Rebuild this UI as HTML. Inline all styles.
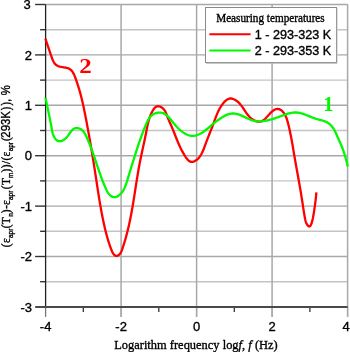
<!DOCTYPE html>
<html><head><meta charset="utf-8"><style>
html,body{margin:0;padding:0;background:#fff;}
svg{display:block;}
text{stroke:#000;stroke-width:0.35px;}
.cl{stroke:none;}
.tl{font-family:"Liberation Sans",sans-serif;font-size:13px;fill:#000;}
.lt{font-family:"Liberation Serif",serif;font-size:11.8px;fill:#000;}
.ll{font-family:"Liberation Sans",sans-serif;font-size:12px;fill:#000;}
.cl{font-family:"Liberation Serif",serif;font-size:20.5px;font-weight:bold;}
.xt{font-family:"Liberation Serif",serif;font-size:13px;fill:#000;}
.yt{font-family:"Liberation Sans",sans-serif;font-size:13px;fill:#000;}
.yt .s{font-family:"Liberation Serif",serif;}
.yt .sub{font-size:7.5px;}
</style></head><body>
<svg width="350" height="352" viewBox="0 0 350 352">
<rect width="350" height="352" fill="#fff"/>
<line x1="45.6" y1="4.50" x2="347.6" y2="4.50" stroke="#a8a8a8" stroke-width="1.4"/>
<line x1="45.6" y1="29.70" x2="347.6" y2="29.70" stroke="#c4c4c4" stroke-width="1.4"/>
<line x1="45.6" y1="54.90" x2="347.6" y2="54.90" stroke="#a8a8a8" stroke-width="1.4"/>
<line x1="45.6" y1="80.10" x2="347.6" y2="80.10" stroke="#c4c4c4" stroke-width="1.4"/>
<line x1="45.6" y1="105.30" x2="347.6" y2="105.30" stroke="#a8a8a8" stroke-width="1.4"/>
<line x1="45.6" y1="130.50" x2="347.6" y2="130.50" stroke="#c4c4c4" stroke-width="1.4"/>
<line x1="45.6" y1="155.70" x2="347.6" y2="155.70" stroke="#a8a8a8" stroke-width="1.4"/>
<line x1="45.6" y1="180.90" x2="347.6" y2="180.90" stroke="#c4c4c4" stroke-width="1.4"/>
<line x1="45.6" y1="206.10" x2="347.6" y2="206.10" stroke="#a8a8a8" stroke-width="1.4"/>
<line x1="45.6" y1="231.30" x2="347.6" y2="231.30" stroke="#c4c4c4" stroke-width="1.4"/>
<line x1="45.6" y1="256.50" x2="347.6" y2="256.50" stroke="#a8a8a8" stroke-width="1.4"/>
<line x1="45.6" y1="281.70" x2="347.6" y2="281.70" stroke="#c4c4c4" stroke-width="1.4"/>
<line x1="121.1" y1="4.5" x2="121.1" y2="316.9" stroke="#a8a8a8" stroke-width="1.5"/>
<line x1="196.6" y1="4.5" x2="196.6" y2="316.9" stroke="#a8a8a8" stroke-width="1.5"/>
<line x1="272.1" y1="4.5" x2="272.1" y2="316.9" stroke="#a8a8a8" stroke-width="1.5"/>
<line x1="347.6" y1="4.5" x2="347.6" y2="316.9" stroke="#a8a8a8" stroke-width="1.5"/>
<line x1="35.1" y1="4.5" x2="45.6" y2="4.5" stroke="#333" stroke-width="1.4"/>
<line x1="40.1" y1="29.7" x2="45.6" y2="29.7" stroke="#333" stroke-width="1.4"/>
<line x1="35.1" y1="54.9" x2="45.6" y2="54.9" stroke="#333" stroke-width="1.4"/>
<line x1="40.1" y1="80.1" x2="45.6" y2="80.1" stroke="#333" stroke-width="1.4"/>
<line x1="35.1" y1="105.3" x2="45.6" y2="105.3" stroke="#333" stroke-width="1.4"/>
<line x1="40.1" y1="130.5" x2="45.6" y2="130.5" stroke="#333" stroke-width="1.4"/>
<line x1="35.1" y1="155.7" x2="45.6" y2="155.7" stroke="#333" stroke-width="1.4"/>
<line x1="40.1" y1="180.9" x2="45.6" y2="180.9" stroke="#333" stroke-width="1.4"/>
<line x1="35.1" y1="206.1" x2="45.6" y2="206.1" stroke="#333" stroke-width="1.4"/>
<line x1="40.1" y1="231.3" x2="45.6" y2="231.3" stroke="#333" stroke-width="1.4"/>
<line x1="35.1" y1="256.5" x2="45.6" y2="256.5" stroke="#333" stroke-width="1.4"/>
<line x1="40.1" y1="281.7" x2="45.6" y2="281.7" stroke="#333" stroke-width="1.4"/>
<line x1="35.1" y1="306.9" x2="45.6" y2="306.9" stroke="#333" stroke-width="1.4"/>
<line x1="45.6" y1="306.9" x2="45.6" y2="316.9" stroke="#777" stroke-width="1.3"/>
<line x1="83.3" y1="306.9" x2="83.3" y2="311.9" stroke="#333" stroke-width="1.3"/>
<line x1="121.1" y1="306.9" x2="121.1" y2="316.9" stroke="#a8a8a8" stroke-width="1.3"/>
<line x1="158.8" y1="306.9" x2="158.8" y2="311.9" stroke="#333" stroke-width="1.3"/>
<line x1="196.6" y1="306.9" x2="196.6" y2="316.9" stroke="#a8a8a8" stroke-width="1.3"/>
<line x1="234.3" y1="306.9" x2="234.3" y2="311.9" stroke="#333" stroke-width="1.3"/>
<line x1="272.1" y1="306.9" x2="272.1" y2="316.9" stroke="#a8a8a8" stroke-width="1.3"/>
<line x1="309.9" y1="306.9" x2="309.9" y2="311.9" stroke="#333" stroke-width="1.3"/>
<line x1="347.6" y1="306.9" x2="347.6" y2="316.9" stroke="#a8a8a8" stroke-width="1.3"/>
<line x1="45.6" y1="4.5" x2="45.6" y2="306.9" stroke="#222" stroke-width="1.3"/>
<line x1="35.6" y1="306.9" x2="347.6" y2="306.9" stroke="#4a4a4a" stroke-width="2"/>
<path d="M45.40,38.59 L46.02,40.55 L46.63,42.42 L47.23,44.20 L47.82,45.94 L48.42,47.65 L49.01,49.36 L49.61,51.09 L50.22,52.89 L50.83,54.76 L51.47,56.70 L52.16,58.66 L52.95,60.55 L53.88,62.30 L54.98,63.84 L56.30,65.10 L57.87,66.00 L59.66,66.59 L61.59,66.98 L63.58,67.27 L65.55,67.58 L67.42,68.01 L69.11,68.68 L70.58,69.66 L71.83,70.92 L72.89,72.41 L73.81,74.07 L74.62,75.86 L75.33,77.72 L76.00,79.61 L76.64,81.48 L77.26,83.32 L77.86,85.14 L78.44,86.96 L79.00,88.78 L79.54,90.60 L80.06,92.43 L80.56,94.27 L81.04,96.11 L81.51,97.96 L81.97,99.82 L82.41,101.68 L82.83,103.54 L83.25,105.41 L83.65,107.28 L84.05,109.16 L84.43,111.04 L84.81,112.92 L85.18,114.80 L85.55,116.68 L85.91,118.56 L86.27,120.45 L86.63,122.33 L86.98,124.21 L87.33,126.10 L87.68,127.98 L88.02,129.86 L88.37,131.75 L88.71,133.63 L89.04,135.51 L89.38,137.40 L89.71,139.28 L90.04,141.16 L90.36,143.05 L90.69,144.93 L91.01,146.82 L91.33,148.70 L91.65,150.59 L91.96,152.48 L92.28,154.36 L92.59,156.25 L92.89,158.14 L93.20,160.03 L93.50,161.91 L93.81,163.80 L94.10,165.69 L94.40,167.58 L94.70,169.47 L94.99,171.37 L95.28,173.26 L95.57,175.15 L95.86,177.04 L96.15,178.94 L96.44,180.83 L96.72,182.73 L97.01,184.62 L97.30,186.52 L97.58,188.41 L97.87,190.31 L98.17,192.20 L98.46,194.09 L98.76,195.99 L99.06,197.88 L99.37,199.77 L99.68,201.66 L100.00,203.55 L100.32,205.43 L100.65,207.32 L100.99,209.20 L101.33,211.08 L101.68,212.96 L102.04,214.84 L102.41,216.72 L102.79,218.59 L103.17,220.46 L103.57,222.33 L103.98,224.19 L104.40,226.05 L104.83,227.91 L105.27,229.76 L105.73,231.62 L106.20,233.46 L106.69,235.31 L107.20,237.15 L107.73,239.00 L108.28,240.84 L108.86,242.68 L109.47,244.51 L110.10,246.35 L110.77,248.19 L111.46,250.03 L112.21,251.85 L113.12,253.55 L114.34,254.99 L115.91,255.89 L117.57,255.78 L119.09,254.80 L120.31,253.38 L121.26,251.70 L122.03,249.83 L122.69,247.89 L123.30,245.97 L123.89,244.08 L124.46,242.23 L125.02,240.39 L125.55,238.56 L126.07,236.73 L126.57,234.90 L127.06,233.07 L127.53,231.22 L127.98,229.38 L128.42,227.53 L128.85,225.67 L129.26,223.81 L129.66,221.95 L130.05,220.08 L130.43,218.21 L130.80,216.34 L131.16,214.46 L131.51,212.58 L131.85,210.70 L132.18,208.82 L132.51,206.93 L132.83,205.04 L133.14,203.15 L133.45,201.26 L133.76,199.36 L134.06,197.47 L134.36,195.57 L134.66,193.68 L134.95,191.78 L135.25,189.88 L135.54,187.99 L135.84,186.09 L136.14,184.19 L136.43,182.30 L136.74,180.40 L137.04,178.50 L137.35,176.61 L137.66,174.72 L137.98,172.83 L138.30,170.94 L138.63,169.05 L138.97,167.17 L139.32,165.28 L139.67,163.40 L140.03,161.53 L140.41,159.65 L140.79,157.78 L141.18,155.91 L141.58,154.04 L141.98,152.17 L142.39,150.31 L142.79,148.44 L143.20,146.58 L143.61,144.71 L144.01,142.84 L144.41,140.97 L144.81,139.10 L145.20,137.22 L145.58,135.34 L145.95,133.46 L146.31,131.58 L146.67,129.69 L147.03,127.80 L147.41,125.92 L147.82,124.04 L148.26,122.18 L148.76,120.33 L149.31,118.50 L149.93,116.69 L150.63,114.91 L151.42,113.15 L152.31,111.43 L153.31,109.74 L154.44,108.16 L155.77,106.89 L157.34,106.19 L159.21,106.30 L161.17,107.11 L162.82,108.28 L164.12,109.67 L165.13,111.23 L165.95,112.92 L166.66,114.69 L167.33,116.51 L168.04,118.32 L168.80,120.13 L169.59,121.92 L170.39,123.70 L171.18,125.48 L171.93,127.25 L172.67,129.01 L173.38,130.77 L174.08,132.53 L174.77,134.28 L175.45,136.03 L176.14,137.77 L176.84,139.51 L177.56,141.25 L178.29,142.99 L179.05,144.73 L179.84,146.46 L180.67,148.20 L181.54,149.93 L182.46,151.67 L183.43,153.40 L184.47,155.14 L185.56,156.87 L186.74,158.54 L188.01,160.02 L189.39,161.16 L190.90,161.84 L192.57,161.91 L194.35,161.34 L196.07,160.35 L197.61,159.12 L198.95,157.72 L200.13,156.17 L201.17,154.51 L202.08,152.78 L202.90,151.01 L203.64,149.23 L204.32,147.45 L204.97,145.69 L205.60,143.92 L206.25,142.15 L206.91,140.37 L207.60,138.59 L208.30,136.80 L209.01,135.01 L209.72,133.21 L210.44,131.41 L211.15,129.61 L211.86,127.81 L212.55,126.02 L213.23,124.23 L213.89,122.44 L214.54,120.66 L215.18,118.88 L215.83,117.11 L216.51,115.36 L217.22,113.61 L217.99,111.88 L218.81,110.16 L219.72,108.46 L220.71,106.77 L221.80,105.11 L223.01,103.47 L224.33,101.93 L225.76,100.57 L227.29,99.49 L228.93,98.76 L230.67,98.48 L232.50,98.74 L234.35,99.48 L236.09,100.49 L237.65,101.66 L239.06,102.96 L240.34,104.37 L241.52,105.85 L242.63,107.41 L243.70,109.00 L244.76,110.61 L245.83,112.22 L246.95,113.80 L248.13,115.33 L249.40,116.76 L250.78,118.09 L252.30,119.26 L253.98,120.27 L255.84,121.07 L257.80,121.59 L259.69,121.71 L261.39,121.38 L262.93,120.64 L264.37,119.59 L265.73,118.29 L267.07,116.82 L268.43,115.26 L269.86,113.68 L271.35,112.18 L272.89,110.84 L274.46,109.77 L276.06,109.07 L277.67,108.82 L279.27,109.13 L280.83,109.96 L282.30,111.19 L283.64,112.72 L284.79,114.42 L285.73,116.20 L286.48,118.00 L287.09,119.82 L287.61,121.65 L288.10,123.50 L288.56,125.34 L289.01,127.20 L289.44,129.05 L289.85,130.92 L290.24,132.78 L290.62,134.65 L290.99,136.53 L291.34,138.40 L291.69,140.28 L292.03,142.16 L292.36,144.05 L292.68,145.93 L293.01,147.82 L293.33,149.71 L293.65,151.60 L293.97,153.49 L294.29,155.38 L294.61,157.27 L294.94,159.16 L295.28,161.05 L295.61,162.94 L295.95,164.83 L296.29,166.72 L296.63,168.60 L296.97,170.49 L297.31,172.38 L297.65,174.27 L297.99,176.16 L298.33,178.05 L298.67,179.93 L299.00,181.82 L299.33,183.71 L299.66,185.59 L299.99,187.48 L300.31,189.36 L300.63,191.24 L300.95,193.13 L301.26,195.01 L301.56,196.89 L301.86,198.77 L302.15,200.66 L302.43,202.54 L302.72,204.42 L303.00,206.30 L303.29,208.19 L303.58,210.08 L303.89,211.98 L304.20,213.88 L304.53,215.80 L304.88,217.72 L305.26,219.65 L305.73,221.57 L306.41,223.40 L307.44,225.11 L308.75,226.35 L309.99,226.28 L310.98,224.84 L311.75,222.75 L312.33,220.67 L312.77,218.74 L313.13,216.88 L313.45,215.04 L313.76,213.19 L314.07,211.32 L314.36,209.43 L314.64,207.54 L314.90,205.64 L315.16,203.73 L315.40,201.82 L315.63,199.91 L315.85,198.00 L316.05,196.09 L316.23,194.19 L316.40,192.30" fill="none" stroke="#ff0000" stroke-width="2.3" stroke-linejoin="round" stroke-linecap="butt"/>
<path d="M45.40,97.71 L45.67,98.89 L45.93,100.08 L46.19,101.27 L46.45,102.47 L46.71,103.68 L46.97,104.88 L47.23,106.09 L47.49,107.30 L47.75,108.51 L48.00,109.73 L48.25,110.94 L48.50,112.15 L48.75,113.36 L49.00,114.57 L49.25,115.77 L49.50,116.97 L49.74,118.16 L49.98,119.35 L50.22,120.53 L50.46,121.71 L50.69,122.89 L50.92,124.07 L51.14,125.26 L51.36,126.45 L51.57,127.66 L51.78,128.89 L51.99,130.13 L52.23,131.38 L52.52,132.63 L52.87,133.89 L53.31,135.15 L53.85,136.39 L54.49,137.58 L55.21,138.68 L56.01,139.63 L56.88,140.38 L57.81,140.89 L58.78,141.18 L59.79,141.26 L60.81,141.14 L61.85,140.84 L62.89,140.37 L63.92,139.76 L64.92,139.01 L65.89,138.14 L66.81,137.17 L67.68,136.12 L68.50,135.01 L69.28,133.87 L70.06,132.75 L70.83,131.67 L71.62,130.67 L72.45,129.78 L73.33,129.05 L74.29,128.49 L75.33,128.15 L76.44,128.02 L77.59,128.10 L78.75,128.35 L79.88,128.77 L80.96,129.33 L81.96,130.03 L82.85,130.84 L83.64,131.75 L84.35,132.73 L84.99,133.79 L85.58,134.89 L86.13,136.02 L86.65,137.16 L87.17,138.30 L87.67,139.45 L88.17,140.60 L88.65,141.75 L89.13,142.90 L89.59,144.05 L90.05,145.20 L90.49,146.36 L90.94,147.51 L91.37,148.67 L91.79,149.82 L92.21,150.98 L92.63,152.14 L93.04,153.29 L93.44,154.45 L93.84,155.61 L94.24,156.77 L94.63,157.93 L95.03,159.09 L95.41,160.24 L95.80,161.40 L96.19,162.56 L96.57,163.71 L96.96,164.87 L97.34,166.02 L97.73,167.18 L98.12,168.33 L98.51,169.48 L98.90,170.63 L99.29,171.78 L99.69,172.93 L100.10,174.08 L100.50,175.23 L100.92,176.38 L101.34,177.53 L101.77,178.68 L102.21,179.83 L102.65,180.99 L103.11,182.15 L103.58,183.30 L104.06,184.47 L104.55,185.63 L105.05,186.80 L105.57,187.97 L106.10,189.15 L106.66,190.32 L107.25,191.47 L107.89,192.57 L108.59,193.61 L109.38,194.57 L110.27,195.42 L111.25,196.14 L112.31,196.69 L113.41,197.05 L114.54,197.18 L115.66,197.05 L116.76,196.69 L117.82,196.14 L118.83,195.47 L119.75,194.73 L120.61,193.92 L121.41,193.04 L122.14,192.11 L122.82,191.13 L123.44,190.10 L124.02,189.03 L124.56,187.92 L125.06,186.79 L125.52,185.62 L125.96,184.43 L126.38,183.23 L126.77,182.01 L127.15,180.79 L127.52,179.56 L127.89,178.34 L128.26,177.12 L128.62,175.91 L128.99,174.71 L129.35,173.51 L129.71,172.32 L130.08,171.13 L130.44,169.95 L130.80,168.78 L131.16,167.60 L131.52,166.43 L131.88,165.27 L132.25,164.11 L132.61,162.95 L132.97,161.79 L133.33,160.63 L133.70,159.48 L134.06,158.32 L134.42,157.17 L134.79,156.02 L135.15,154.87 L135.52,153.71 L135.88,152.56 L136.25,151.41 L136.62,150.26 L136.99,149.10 L137.37,147.95 L137.75,146.79 L138.13,145.64 L138.51,144.48 L138.90,143.33 L139.29,142.17 L139.69,141.01 L140.09,139.85 L140.50,138.69 L140.91,137.53 L141.33,136.37 L141.75,135.21 L142.18,134.05 L142.62,132.89 L143.07,131.72 L143.52,130.56 L143.98,129.39 L144.45,128.22 L144.92,127.05 L145.41,125.88 L145.90,124.71 L146.41,123.54 L146.93,122.38 L147.48,121.24 L148.06,120.13 L148.68,119.05 L149.34,118.03 L150.06,117.06 L150.85,116.17 L151.70,115.36 L152.63,114.63 L153.65,114.01 L154.73,113.49 L155.88,113.08 L157.07,112.79 L158.29,112.61 L159.51,112.56 L160.73,112.63 L161.92,112.83 L163.06,113.17 L164.16,113.65 L165.20,114.24 L166.20,114.95 L167.16,115.74 L168.07,116.60 L168.96,117.52 L169.81,118.49 L170.65,119.48 L171.46,120.48 L172.26,121.47 L173.05,122.45 L173.83,123.41 L174.61,124.35 L175.40,125.28 L176.19,126.18 L177.00,127.07 L177.83,127.93 L178.68,128.78 L179.55,129.60 L180.46,130.40 L181.40,131.17 L182.39,131.92 L183.42,132.65 L184.49,133.34 L185.60,133.98 L186.74,134.55 L187.91,135.04 L189.09,135.43 L190.28,135.70 L191.47,135.84 L192.67,135.87 L193.86,135.79 L195.04,135.60 L196.22,135.33 L197.38,134.97 L198.52,134.53 L199.65,134.03 L200.76,133.46 L201.84,132.85 L202.89,132.19 L203.91,131.49 L204.91,130.77 L205.88,130.01 L206.84,129.24 L207.79,128.45 L208.72,127.64 L209.65,126.83 L210.58,126.02 L211.50,125.21 L212.43,124.41 L213.37,123.63 L214.32,122.86 L215.28,122.11 L216.26,121.38 L217.25,120.66 L218.25,119.96 L219.27,119.26 L220.29,118.57 L221.33,117.89 L222.39,117.22 L223.45,116.57 L224.53,115.95 L225.62,115.38 L226.73,114.86 L227.85,114.41 L228.99,114.04 L230.14,113.75 L231.31,113.56 L232.49,113.48 L233.69,113.50 L234.90,113.62 L236.11,113.83 L237.32,114.11 L238.53,114.46 L239.73,114.87 L240.92,115.33 L242.09,115.82 L243.24,116.34 L244.37,116.87 L245.49,117.41 L246.61,117.96 L247.72,118.49 L248.83,119.00 L249.94,119.48 L251.06,119.93 L252.20,120.33 L253.35,120.67 L254.53,120.95 L255.72,121.15 L256.94,121.28 L258.18,121.34 L259.42,121.35 L260.67,121.30 L261.91,121.21 L263.15,121.07 L264.37,120.91 L265.58,120.72 L266.77,120.50 L267.95,120.26 L269.12,119.99 L270.27,119.70 L271.43,119.39 L272.58,119.06 L273.73,118.70 L274.87,118.33 L276.03,117.93 L277.18,117.52 L278.35,117.09 L279.52,116.65 L280.70,116.20 L281.89,115.74 L283.08,115.30 L284.28,114.86 L285.48,114.44 L286.68,114.05 L287.89,113.68 L289.09,113.35 L290.29,113.07 L291.49,112.83 L292.69,112.64 L293.89,112.52 L295.07,112.47 L296.26,112.48 L297.44,112.58 L298.61,112.74 L299.77,112.96 L300.94,113.24 L302.10,113.56 L303.25,113.93 L304.41,114.33 L305.57,114.76 L306.72,115.22 L307.88,115.68 L309.04,116.16 L310.20,116.63 L311.36,117.10 L312.53,117.56 L313.71,118.00 L314.89,118.42 L316.08,118.80 L317.27,119.15 L318.47,119.47 L319.66,119.78 L320.85,120.09 L322.03,120.41 L323.19,120.76 L324.33,121.14 L325.44,121.57 L326.52,122.06 L327.57,122.63 L328.58,123.28 L329.54,124.03 L330.46,124.86 L331.32,125.76 L332.13,126.71 L332.89,127.72 L333.58,128.75 L334.22,129.81 L334.81,130.89 L335.37,131.99 L335.89,133.11 L336.39,134.23 L336.88,135.35 L337.37,136.48 L337.86,137.61 L338.35,138.73 L338.86,139.85 L339.36,140.97 L339.87,142.09 L340.37,143.21 L340.86,144.34 L341.34,145.46 L341.82,146.60 L342.27,147.74 L342.71,148.88 L343.14,150.04 L343.54,151.20 L343.93,152.36 L344.31,153.53 L344.67,154.71 L345.03,155.89 L345.37,157.07 L345.70,158.26 L346.02,159.45 L346.33,160.64 L346.64,161.83 L346.93,163.02 L347.23,164.22 L347.51,165.41 L347.80,166.60" fill="none" stroke="#00f800" stroke-width="2.3" stroke-linejoin="round" stroke-linecap="butt"/>
<text x="32" y="311.5" text-anchor="end" class="tl">-3</text>
<text x="32" y="261.1" text-anchor="end" class="tl">-2</text>
<text x="32" y="210.7" text-anchor="end" class="tl">-1</text>
<text x="32" y="160.3" text-anchor="end" class="tl">0</text>
<text x="32" y="109.9" text-anchor="end" class="tl">1</text>
<text x="32" y="59.5" text-anchor="end" class="tl">2</text>
<text x="30.7" y="9.1" text-anchor="end" class="tl">3</text>
<text x="45.6" y="330.6" text-anchor="middle" class="tl">-4</text>
<text x="121.1" y="330.6" text-anchor="middle" class="tl">-2</text>
<text x="196.6" y="330.6" text-anchor="middle" class="tl">0</text>
<text x="272.1" y="330.6" text-anchor="middle" class="tl">2</text>
<text x="346.0" y="330.6" text-anchor="middle" class="tl">4</text>
<rect x="205.5" y="7.5" width="131" height="55" fill="#fff" stroke="#8a8a8a" stroke-width="1"/>
<line x1="206" y1="63.2" x2="337" y2="63.2" stroke="#b0b0b0" stroke-width="1"/>
<line x1="337.2" y1="8" x2="337.2" y2="63.5" stroke="#c8c8c8" stroke-width="0.8"/>
<text x="216.2" y="22.2" class="lt" textLength="108.5" lengthAdjust="spacingAndGlyphs">Measuring temperatures</text>
<line x1="209.4" y1="34.3" x2="250.6" y2="34.3" stroke="#ff0000" stroke-width="2.1"/>
<line x1="209.4" y1="50.5" x2="250.6" y2="50.5" stroke="#00f800" stroke-width="2.1"/>
<text x="254.8" y="39.1" class="ll" textLength="76.5" lengthAdjust="spacingAndGlyphs">1 - 293-323 K</text>
<text x="254.8" y="54.6" class="ll" textLength="76.5" lengthAdjust="spacingAndGlyphs">2 - 293-353 K</text>
<text x="79.3" y="73" class="cl" fill="#ff0000" transform="translate(79.3,0) scale(1.22,1) translate(-79.3,0)">2</text>
<text x="323.2" y="110.9" class="cl" fill="#00f800">1</text>
<text x="114.2" y="348.5" class="xt" textLength="163.5" lengthAdjust="spacingAndGlyphs">Logarithm frequency log<tspan font-style="italic">f</tspan>, <tspan font-style="italic">f</tspan> (Hz)</text>
<text transform="translate(10.4,247.2) rotate(-90) scale(0.860,1)" class="yt"><tspan x="-0.12" y="0" style="font-family:'Liberation Serif',serif;font-size:13.2px">(</tspan><tspan x="4.78" y="0" style="font-family:'Liberation Serif',serif;font-size:13.2px">ε</tspan><tspan x="10.70" y="3.0" style="font-family:'Liberation Sans',sans-serif;font-size:7.5px">apr</tspan><tspan x="21.91" y="0" style="font-family:'Liberation Serif',serif;font-size:13.2px">(</tspan><tspan x="26.60" y="0" style="font-family:'Liberation Serif',serif;font-size:13.2px">T</tspan><tspan x="35.47" y="3.0" style="font-family:'Liberation Sans',sans-serif;font-size:7.5px">n</tspan><tspan x="39.51" y="0" style="font-family:'Liberation Serif',serif;font-size:13.2px">)</tspan><tspan x="44.72" y="0" style="font-family:'Liberation Sans',sans-serif;font-size:13.2px">-</tspan><tspan x="49.20" y="0" style="font-family:'Liberation Serif',serif;font-size:13.2px">ε</tspan><tspan x="54.89" y="3.0" style="font-family:'Liberation Sans',sans-serif;font-size:7.5px">apr</tspan><tspan x="67.32" y="0" style="font-family:'Liberation Serif',serif;font-size:13.2px">(</tspan><tspan x="72.24" y="0" style="font-family:'Liberation Serif',serif;font-size:13.2px">T</tspan><tspan x="80.48" y="3.0" style="font-family:'Liberation Sans',sans-serif;font-size:7.5px">m</tspan><tspan x="86.83" y="0" style="font-family:'Liberation Serif',serif;font-size:13.2px">)</tspan><tspan x="91.72" y="0" style="font-family:'Liberation Serif',serif;font-size:13.2px">)</tspan><tspan x="96.89" y="0" style="font-family:'Liberation Serif',serif;font-size:13.2px">/</tspan><tspan x="100.81" y="0" style="font-family:'Liberation Serif',serif;font-size:13.2px">(</tspan><tspan x="105.59" y="0" style="font-family:'Liberation Serif',serif;font-size:13.2px">ε</tspan><tspan x="111.46" y="3.0" style="font-family:'Liberation Sans',sans-serif;font-size:7.5px">apr</tspan><tspan x="123.42" y="0" style="font-family:'Liberation Serif',serif;font-size:13.2px">(</tspan><tspan x="127.41" y="0" style="font-family:'Liberation Sans',sans-serif;font-size:13.2px">293K</tspan><tspan x="159.34" y="0" style="font-family:'Liberation Sans',sans-serif;font-size:13.2px">)</tspan><tspan x="164.80" y="0" style="font-family:'Liberation Sans',sans-serif;font-size:13.2px">)</tspan><tspan x="168.81" y="0" style="font-family:'Liberation Sans',sans-serif;font-size:13.2px">,</tspan><tspan x="176.81" y="0" style="font-family:'Liberation Sans',sans-serif;font-size:13.2px">%</tspan></text>
</svg>
</body></html>
